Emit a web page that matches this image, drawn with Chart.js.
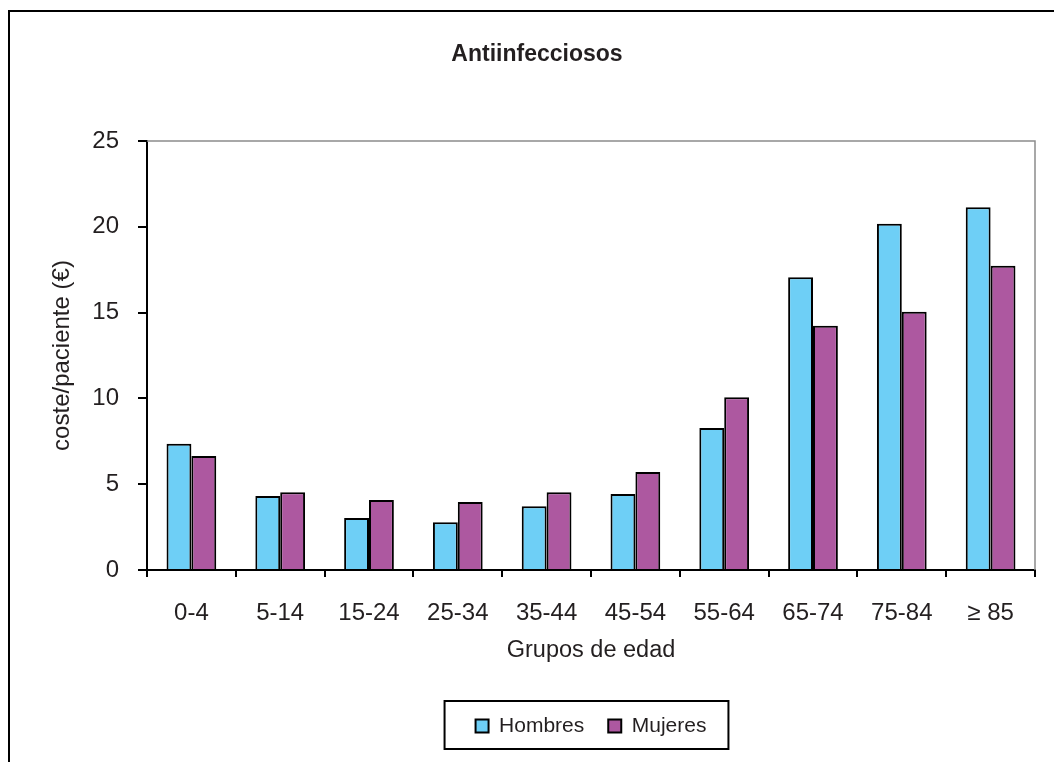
<!DOCTYPE html>
<html lang="es">
<head>
<meta charset="utf-8">
<title>Antiinfecciosos</title>
<script src="https://cdn.jsdelivr.net/npm/chart.js@4.4.1/dist/chart.umd.min.js"></script>
<style>
  html, body { margin: 0; padding: 0; background: #ffffff; }
  canvas { display: block; }
</style>
</head>
<body>
<canvas id="chart" width="1054" height="762"></canvas>
<script>
// Grupos de edad
const grupos = ['0-4', '5-14', '15-24', '25-34', '35-44', '45-54', '55-64', '65-74', '75-84', '\u2265 85'];
// Coste por paciente (€)
const hombres = [7.36, 4.31, 3.03, 2.78, 3.71, 4.43, 8.27, 17.06, 20.18, 21.14];
const mujeres = [6.64, 4.53, 4.08, 3.96, 4.53, 5.71, 10.06, 14.24, 15.05, 17.73];
const yTicks = [0, 5, 10, 15, 20, 25];

const TEXT = '#231f20';
Chart.defaults.font.family = "'Liberation Sans', Arial, sans-serif";
Chart.defaults.color = TEXT;

// White page with an outer frame that runs off the right and bottom edges
const pageFrame = {
  id: 'pageFrame',
  beforeDraw(chart) {
    const ctx = chart.ctx;
    ctx.save();
    ctx.fillStyle = '#ffffff';
    ctx.fillRect(0, 0, chart.width, chart.height);
    ctx.strokeStyle = '#000000';
    ctx.lineWidth = 2;
    ctx.strokeRect(9, 11, chart.width + 20, chart.height + 20);
    ctx.restore();
  }
};

// Grey top and right edges of the plot area
const plotFrame = {
  id: 'plotFrame',
  beforeDatasetsDraw(chart) {
    const {ctx, chartArea: a} = chart;
    ctx.save();
    ctx.strokeStyle = '#8c8c8c';
    ctx.lineWidth = 1.5;
    ctx.beginPath();
    ctx.moveTo(a.left, a.top);
    ctx.lineTo(a.right, a.top);
    ctx.lineTo(a.right, a.bottom);
    ctx.stroke();
    ctx.restore();
  }
};

// Box around the legend entries
const legendFrame = {
  id: 'legendFrame',
  afterDraw(chart) {
    const boxes = chart.legend && chart.legend.legendHitBoxes;
    if (!boxes || !boxes.length) return;
    const first = boxes[0], last = boxes[boxes.length - 1];
    const x0 = first.left - 31;
    const x1 = last.left + last.width + 22;
    const y0 = first.top - 14.5;
    const y1 = first.top + first.height + 12.5;
    const ctx = chart.ctx;
    ctx.save();
    ctx.strokeStyle = '#000000';
    ctx.lineWidth = 2;
    ctx.strokeRect(x0, y0, x1 - x0, y1 - y0);
    ctx.restore();
  }
};

new Chart(document.getElementById('chart'), {
  type: 'bar',
  data: {
    labels: grupos,
    datasets: [
      {
        label: 'Hombres',
        data: hombres,
        backgroundColor: '#6ecff6',
        borderColor: '#000000',
        borderWidth: 2
      },
      {
        label: 'Mujeres',
        data: mujeres,
        backgroundColor: '#ad58a0',
        borderColor: '#000000',
        borderWidth: 2
      }
    ]
  },
  options: {
    responsive: false,
    animation: false,
    devicePixelRatio: 1,
    layout: { padding: { left: 39, right: 19, top: 0, bottom: 15.5 } },
    datasets: {
      bar: { categoryPercentage: 0.56, barPercentage: 1.0 }
    },
    plugins: {
      title: {
        display: true,
        text: 'Antiinfecciosos',
        color: TEXT,
        font: { size: 23, weight: 'bold' },
        padding: { top: 41.2, bottom: 72.2 }
      },
      legend: {
        display: true,
        position: 'bottom',
        fullSize: false,
        labels: {
          boxWidth: 13,
          boxHeight: 13,
          padding: 24,
          color: TEXT,
          font: { size: 21 }
        }
      },
      tooltip: { enabled: false }
    },
    scales: {
      x: {
        grid: {
          display: true,
          drawOnChartArea: false,
          drawTicks: true,
          tickLength: 7,
          color: '#000000',
          lineWidth: 2
        },
        border: { display: true, color: '#000000', width: 2 },
        ticks: {
          padding: 21.6,
          color: TEXT,
          font: { size: 24 },
          maxRotation: 0,
          autoSkip: false
        },
        title: {
          display: true,
          text: 'Grupos de edad',
          color: TEXT,
          font: { size: 23.5 },
          padding: { top: 0, bottom: 26.4 }
        },
        afterFit(scale) { scale.height = 121.5; }
      },
      y: {
        min: 0,
        max: 25,
        grid: {
          display: true,
          drawOnChartArea: false,
          drawTicks: true,
          tickLength: 9,
          color: '#000000',
          lineWidth: 2
        },
        border: { display: true, color: '#000000', width: 2 },
        afterBuildTicks(scale) {
          scale.ticks = yTicks.map(v => ({ value: v }));
        },
        ticks: {
          padding: 19,
          color: TEXT,
          font: { size: 24 }
        },
        title: {
          display: true,
          text: 'coste/paciente (\u20ac)',
          color: TEXT,
          font: { size: 24 },
          padding: { top: 8.6, bottom: 0 }
        },
        afterFit(scale) { scale.width = 108; }
      }
    }
  },
  plugins: [pageFrame, plotFrame, legendFrame]
});
</script>
</body>
</html>
